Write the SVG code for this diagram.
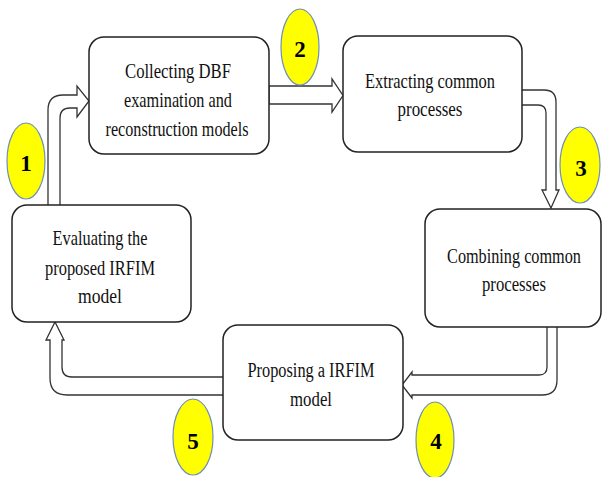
<svg xmlns="http://www.w3.org/2000/svg" width="602" height="477" viewBox="0 0 602 477">
<style>
.box{fill:#fff;stroke:#222;stroke-width:1.5}
.arr{fill:#fff;stroke:#333;stroke-width:1.3;stroke-linejoin:miter}
.lbl{font-family:"Liberation Serif","Times New Roman",serif;font-size:20.5px;fill:#111;text-anchor:middle}
.badge{fill:#ffff00;stroke:#6f8fb3;stroke-width:1.2}
.num{font-family:"Liberation Serif","Times New Roman",serif;font-size:23px;font-weight:bold;fill:#000;text-anchor:middle}
</style>
<rect width="602" height="477" fill="#fff"/>
<g id="connectors">
<path class="arr" d="M48,205 L48,110 Q48,95 63,95 L77,95 L77,86 L89,101 L77,117 L77,108 L70,108 Q60,108 60,118 L60,205"/>
<path class="arr" d="M269,86 L332,86 L332,79 L343,95.5 L332,112 L332,104 L269,104 Z"/>
<path class="arr" d="M522,90 L544,90 Q556,90 556,102 L556,190 L559,190 L551,208 L542,190 L546,190 L546,113 Q546,105 538,105 L522,105"/>
<path class="arr" d="M547,327 L547,367 Q547,375 539,375 L412,375 L412,372 L402,385 L412,398 L412,395 L542,395 Q557,395 557,380 L557,327"/>
<path class="arr" d="M223,377 L72,377 Q62,377 62,367 L62,340 L64,340 L55,322 L46,340 L50,340 L50,378 Q50,395 67,395 L223,395"/>
</g>
<g id="node-collecting">
<rect class="box" x="89" y="37" width="180" height="117" rx="15"/>
<text class="lbl" transform="translate(178,78) scale(0.813,1)">Collecting DBF</text>
<text class="lbl" transform="translate(178,107) scale(0.794,1)">examination and</text>
<text class="lbl" transform="translate(177,136) scale(0.787,1)">reconstruction models</text>
</g>
<g id="node-extracting">
<rect class="box" x="343" y="36" width="179" height="116" rx="15"/>
<text class="lbl" transform="translate(430,88) scale(0.801,1)">Extracting common</text>
<text class="lbl" transform="translate(430,116) scale(0.827,1)">processes</text>
</g>
<g id="node-combining">
<rect class="box" x="425" y="209" width="176" height="118" rx="15"/>
<text class="lbl" transform="translate(514,263) scale(0.792,1)">Combining common</text>
<text class="lbl" transform="translate(514,291) scale(0.814,1)">processes</text>
</g>
<g id="node-proposing">
<rect class="box" x="223" y="325" width="180" height="115" rx="15"/>
<text class="lbl" transform="translate(311,377) scale(0.797,1)">Proposing a IRFIM</text>
<text class="lbl" transform="translate(311,406) scale(0.82,1)">model</text>
</g>
<g id="node-evaluating">
<rect class="box" x="12" y="205" width="179" height="117" rx="15"/>
<text class="lbl" transform="translate(100,245) scale(0.798,1)">Evaluating the</text>
<text class="lbl" transform="translate(100,275) scale(0.802,1)">proposed IRFIM</text>
<text class="lbl" transform="translate(100,303) scale(0.858,1)">model</text>
</g>
<g id="badge-1">
<ellipse class="badge" cx="26" cy="161" rx="19" ry="38"/>
<text class="num" x="26" y="171" font-size="25">1</text>
</g>
<g id="badge-2">
<ellipse class="badge" cx="300" cy="47" rx="19" ry="38"/>
<text class="num" x="300" y="57">2</text>
</g>
<g id="badge-3">
<ellipse class="badge" cx="580" cy="165" rx="20" ry="38"/>
<text class="num" x="581" y="176">3</text>
</g>
<g id="badge-4">
<ellipse class="badge" cx="435" cy="440" rx="19" ry="38"/>
<text class="num" x="436" y="449">4</text>
</g>
<g id="badge-5">
<ellipse class="badge" cx="193" cy="437" rx="20" ry="38"/>
<text class="num" x="193" y="449">5</text>
</g>
</svg>
